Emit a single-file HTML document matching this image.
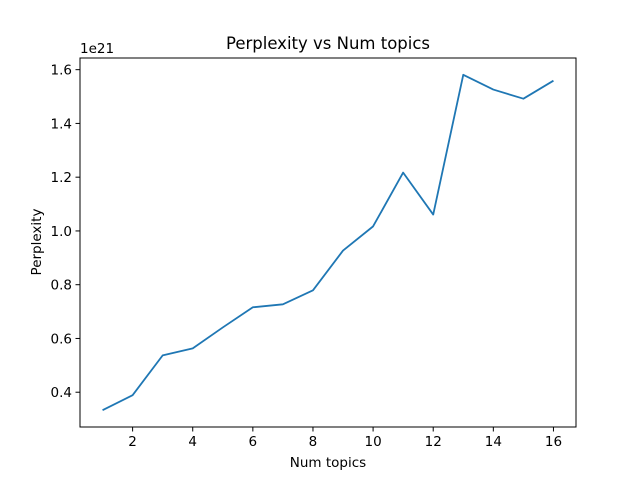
<!DOCTYPE html>
<html><head><meta charset="utf-8"><style>
body{margin:0;background:#fff;}
svg text{font-family:"DejaVu Sans","Liberation Sans",sans-serif;fill:#000;}
</style></head><body>
<svg id="chart" width="640" height="480" viewBox="0 0 640 480">
<rect x="0" y="0" width="640" height="480" fill="#fff"/>
<text x="328" y="49" font-size="16.5" text-anchor="middle">Perplexity vs Num topics</text>
<text x="80" y="53" font-size="13.5">1e21</text>
<g id="xticks"></g><g id="yticks"></g>
<path id="line" fill="none" stroke="#1f77b4" stroke-width="1.8" stroke-linejoin="round"/>
<rect x="80" y="58" width="496" height="369" fill="none" stroke="#000" stroke-width="1"/>
<text x="328" y="467" font-size="13.5" text-anchor="middle">Num topics</text>
<text x="41" y="242" font-size="13.5" text-anchor="middle" transform="rotate(-90 41 242)">Perplexity</text>
</svg>
<script>
const topics = [1,2,3,4,5,6,7,8,9,10,11,12,13,14,15,16];
const perplexity = [0.333,0.389,0.537,0.563,0.641,0.716,0.727,0.779,0.927,1.017,1.217,1.061,1.581,1.526,1.492,1.559];
const xTickLabels = [2,4,6,8,10,12,14,16];
const yTickLabels = [0.4,0.6,0.8,1.0,1.2,1.4,1.6];
const NS='http://www.w3.org/2000/svg';
const L=80,R=576,T=58,B=427;
const xmin=Math.min(...topics),xmax=Math.max(...topics);
const xpad=(xmax-xmin)*0.05;
const ymn=Math.min(...perplexity),ymx=Math.max(...perplexity),ypad=(ymx-ymn)*0.05;
const x0=xmin-xpad,x1=xmax+xpad,y0=ymn-ypad,y1=ymx+ypad;
const sx=v=>L+(v-x0)/(x1-x0)*(R-L);
const sy=v=>B-(v-y0)/(y1-y0)*(B-T);
const xg=document.getElementById('xticks'),yg=document.getElementById('yticks');
xTickLabels.forEach(v=>{
  const l=document.createElementNS(NS,'line');
  l.setAttribute('x1',sx(v));l.setAttribute('x2',sx(v));l.setAttribute('y1',B);l.setAttribute('y2',B+4.5);l.setAttribute('stroke','#000');
  
  
  xg.appendChild(l);
  const t=document.createElementNS(NS,'text');
  t.setAttribute('x',sx(v));t.setAttribute('y',B+19);t.setAttribute('font-size','13.5');t.setAttribute('text-anchor','middle');
  t.textContent=v;
  
  
  xg.appendChild(t);
});
yTickLabels.forEach(v=>{
  const l=document.createElementNS(NS,'line');
  l.setAttribute('x1',L-4.5);l.setAttribute('x2',L);l.setAttribute('y1',sy(v));l.setAttribute('y2',sy(v));l.setAttribute('stroke','#000');
  
  
  yg.appendChild(l);
  const t=document.createElementNS(NS,'text');
  t.setAttribute('x',L-8);t.setAttribute('y',sy(v)+5);t.setAttribute('font-size','13.5');t.setAttribute('text-anchor','end');
  t.textContent=v.toFixed(1);
  
  
  yg.appendChild(t);
});
document.getElementById('line').setAttribute('d',topics.map((v,i)=>(i?'L':'M')+sx(v).toFixed(2)+','+sy(perplexity[i]).toFixed(2)).join(' '));
</script>
</body></html>
